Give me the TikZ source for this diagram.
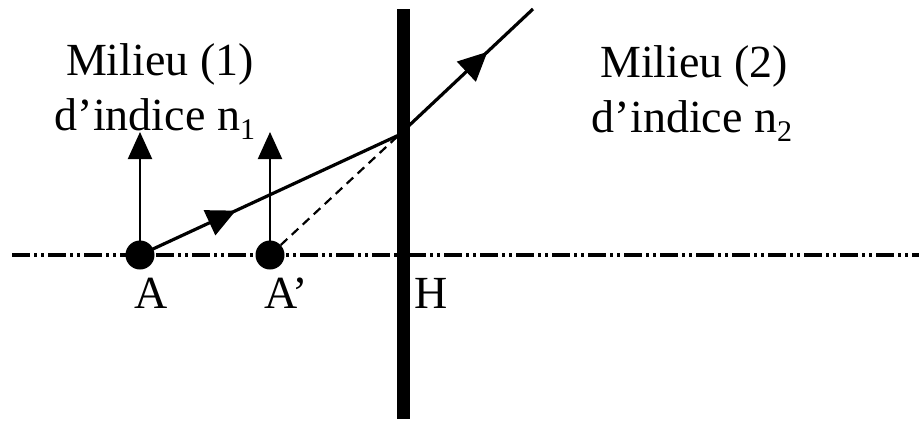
\documentclass[tikz,border=0pt]{standalone}
\usepackage{fontspec}
\setmainfont{Liberation Serif}
\usetikzlibrary{arrows.meta,decorations.markings}
\newcommand{\subn}[1]{\raisebox{-0.2em}{\fontsize{30}{30}\selectfont #1}}
\begin{document}
\begin{tikzpicture}[x=1pt,y=-1pt,
  lbl/.style={font=\fontsize{46}{55}\selectfont, inner sep=0pt, anchor=base},
  pt/.style={circle, fill=black, minimum size=29pt, inner sep=0pt},
  axisline/.style={line width=3.5pt, dash pattern=on 18pt off 4pt on 3pt off 4pt on 3pt off 4pt},
  objarrow/.style={line width=2pt, -{Triangle[length=27pt,width=24pt]}},
  ray/.style={line width=3.2pt},
  midarrow/.style={postaction={decorate}, decoration={markings, mark=at position #1 with {\arrow{Triangle[length=29pt,width=27pt]}}}}
]
\useasboundingbox (0,0) rectangle (919,421);
% axis
\coordinate (L) at (12,255);
\coordinate (R) at (919,255);
\draw[axisline] (L) -- (R);
% interface
\coordinate (Ht) at (403,9);
\coordinate (Hb) at (403,419);
\draw[line width=13pt] (Ht) -- (Hb);
% points
\node[pt] (A) at (140,255) {};
\node[pt] (Ap) at (270,255) {};
\coordinate (I) at (399,135);
\coordinate (E) at (533,9);
\coordinate (At) at (140,132);
\coordinate (Apt) at (270,132);
% object arrows
\draw[objarrow] (A.center) -- (At);
\draw[objarrow] (Ap.center) -- (Apt);
% rays
\draw[ray, midarrow=0.37] (A.center) -- (I);
\draw[ray, midarrow=0.66] (I) -- (E);
\draw[line width=2.2pt, dash pattern=on 9pt off 6pt] (Ap) -- (I);
% labels
\node[lbl] (lA) at (151,308) {A};
\node[lbl] (lAp) at (286,308) {A’};
\node[lbl] (lH) at (431,308) {H};
\node[lbl] (m1) at (160,75) {Milieu (1)};
\node[lbl] (n1) at (155,130) {d’indice n\subn{1}};
\node[lbl] (m2) at (694,77) {Milieu (2)};
\node[lbl] (n2) at (692,132) {d’indice n\subn{2}};
\end{tikzpicture}
\end{document}
